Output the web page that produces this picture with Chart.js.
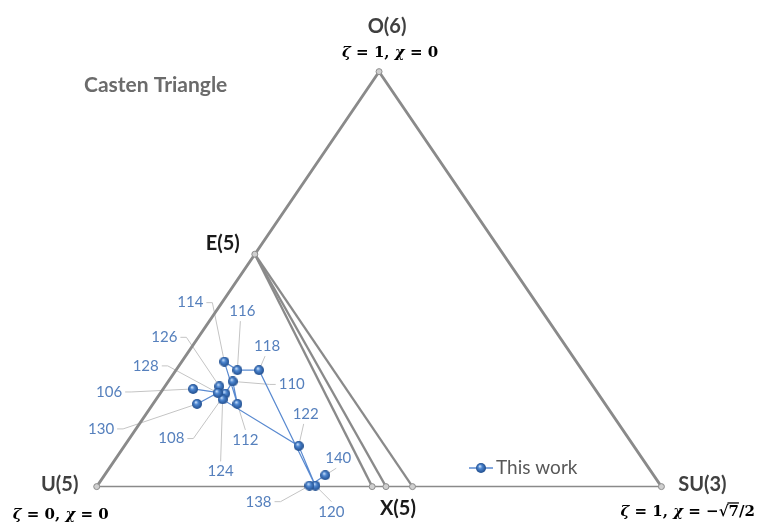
<!DOCTYPE html>
<html lang="en">
<head>
<meta charset="UTF-8">
<title>Casten Triangle</title>
<script src="https://cdn.jsdelivr.net/npm/chart.js"></script>
<style>
  html, body { margin: 0; padding: 0; background: #fff; }
  #wrap { width: 765px; height: 527px; position: relative; }
</style>
</head>
<body>
<div id="wrap"><canvas id="casten"></canvas></div>
<script>
// triangle frame: U(5) = (0,0), SU(3) = (1,0), O(6) = (0.5, 0.866)
const vertexNames = ['U(5)', 'O(6)', 'SU(3)'];
const vertexX = [0, 0.5, 1];
const vertexY = [0, 0.866, 0];

// E(5) on the U(5)-O(6) leg, and the feet of the lines drawn from it
const e5X = 0.28, e5Y = 0.485;
const footX = [0.4878, 0.5122, 0.5592];

// this work, by mass number
const massNumbers = [106, 108, 110, 112, 114, 116, 118, 120, 122, 124, 126, 128, 130, 138, 140];
const pointX = [0.1707, 0.2277, 0.2409, 0.2491, 0.2260, 0.2491, 0.2875, 0.3873, 0.3577, 0.2230, 0.2172, 0.2143, 0.1777, 0.3768, 0.4047];
const pointY = [0.2038, 0.1942, 0.2195, 0.1726, 0.2608, 0.2431, 0.2431, 0.0020, 0.0850, 0.1820, 0.2093, 0.1956, 0.1726, 0.0020, 0.0238];

// label placement (pixels from the point) and side of the label the leader leaves from
const labelOffset = [[-84, 3], [-54, 45], [59, 3], [8, 36], [-34, -59], [5, -59], [8, -24], [16, 26],
                     [7, -32], [-2, 72], [-55, -49], [-72, -27], [-96, 25], [-51, 16], [13, -17]];
const leaderSide = ['r', 'r', 'l', 't', 'r', 'b', 'b', 't', 'b', 't', 'r', 'r', 'r', 'r', 'b'];

const BLUE = '#5a8ad0';
const LABEL_BLUE = '#5680bd';
const GREY = '#8a8a8a';

function makeSphere(d) {
    const c = document.createElement('canvas');
    c.width = d; c.height = d;
    const g = c.getContext('2d');
    const grd = g.createRadialGradient(d * 0.38, d * 0.32, d * 0.04, d / 2, d / 2, d / 2);
    grd.addColorStop(0, '#c4dcf8');
    grd.addColorStop(0.35, '#4d86d0');
    grd.addColorStop(1, '#1f4c8c');
    g.fillStyle = grd;
    g.beginPath(); g.arc(d / 2, d / 2, d / 2, 0, Math.PI * 2); g.fill();
    return c;
}
const sphere = makeSphere(10);

// series with a gap where mass numbers 132-136 are missing
const seriesData = [];
massNumbers.forEach((a, i) => {
    if (i > 0 && a - massNumbers[i - 1] > 2) seriesData.push({ x: null, y: null });
    seriesData.push({ x: pointX[i], y: pointY[i] });
});

const U = { x: vertexX[0], y: vertexY[0] }, O = { x: vertexX[1], y: vertexY[1] }, SU = { x: vertexX[2], y: vertexY[2] };
const E = { x: e5X, y: e5Y };

const datasets = [
    { label: 'This work', data: seriesData, showLine: true, spanGaps: false, borderColor: BLUE, borderWidth: 1.2,
      pointStyle: sphere, pointRadius: 5, order: 0 },
    { data: [U, O, SU], showLine: true, borderColor: GREY, borderWidth: 2.8, pointRadius: 0, order: 3 },
    { data: [U, SU], showLine: true, borderColor: GREY, borderWidth: 1.5, pointRadius: 0, order: 3 }
];
footX.forEach(fx => {
    datasets.push({ data: [E, { x: fx, y: 0 }], showLine: true, borderColor: GREY, borderWidth: 2.3, pointRadius: 0, order: 3 });
});
datasets.push({ data: [U, O, SU, E].concat(footX.map(fx => ({ x: fx, y: 0 }))), showLine: false,
    pointRadius: 3, backgroundColor: '#cfcfcf', borderColor: '#8c8c8c', borderWidth: 1, order: 2 });

function drawMath(ctx, segs, x, y, size, align) {
    const fonts = { i: `italic bold ${size}px 'DejaVu Serif'`, n: `bold ${size}px 'DejaVu Serif'` };
    let total = 0;
    segs.forEach(s => { ctx.font = fonts[s[1] === 'i' ? 'i' : 'n']; total += ctx.measureText(s[0]).width; });
    let cx = align === 'left' ? x : x - total / 2;
    ctx.fillStyle = '#000';
    ctx.textAlign = 'left';
    ctx.textBaseline = 'middle';
    segs.forEach(s => {
        ctx.font = fonts[s[1] === 'i' ? 'i' : 'n'];
        const w = ctx.measureText(s[0]).width;
        ctx.fillText(s[0], cx, y);
        if (s[1] === 'o') {
            ctx.fillRect(cx - 1, y - size * 0.62, w + 1, 1.3);
        }
        cx += w;
    });
}

const decor = {
    id: 'decor',
    beforeDatasetsDraw(chart) {
        const { ctx, scales: { x, y } } = chart;
        ctx.save();
        ctx.font = "15px Lato";
        ctx.strokeStyle = '#c4c4c4';
        ctx.lineWidth = 1;
        massNumbers.forEach((a, i) => {
            const px = x.getPixelForValue(pointX[i]), py = y.getPixelForValue(pointY[i]);
            const cx = px + labelOffset[i][0], cy = py + labelOffset[i][1];
            const w = ctx.measureText(String(a)).width;
            ctx.beginPath();
            const side = leaderSide[i];
            if (side === 'r') { ctx.moveTo(cx + w / 2 + 3, cy); ctx.lineTo(cx + w / 2 + 9, cy); }
            else if (side === 'l') { ctx.moveTo(cx - w / 2 - 3, cy); ctx.lineTo(cx - w / 2 - 9, cy); }
            else if (side === 't') { ctx.moveTo(cx, cy - 10); }
            else { ctx.moveTo(cx - 2, cy + 10); }
            ctx.lineTo(px, py);
            ctx.stroke();
        });
        ctx.restore();
    },
    afterDatasetsDraw(chart) {
        const { ctx, scales: { x, y } } = chart;
        ctx.save();
        ctx.textAlign = 'center';
        ctx.textBaseline = 'middle';

        // mass number labels
        ctx.font = "15px Lato";
        ctx.fillStyle = LABEL_BLUE;
        massNumbers.forEach((a, i) => {
            const px = x.getPixelForValue(pointX[i]), py = y.getPixelForValue(pointY[i]);
            ctx.fillText(String(a), px + labelOffset[i][0], py + labelOffset[i][1]);
        });

        // vertex names
        const vx = vertexX.map(v => x.getPixelForValue(v));
        const vy = vertexY.map(v => y.getPixelForValue(v));
        ctx.font = "bold 20px Lato";
        ctx.fillStyle = '#404040';
        ctx.fillText(vertexNames[0], vx[0] - 37, vy[0] - 2);
        ctx.fillText(vertexNames[1], vx[1] + 8, vy[1] - 45);
        ctx.fillText(vertexNames[2], vx[2] + 41, vy[2] - 2);
        ctx.fillStyle = '#1a1a1a';
        ctx.fillText('E(5)', x.getPixelForValue(e5X) - 32, y.getPixelForValue(e5Y) - 11);
        ctx.fillText('X(5)', x.getPixelForValue(footX[1]) + 12, y.getPixelForValue(0) + 22);

        drawMath(ctx, [['ζ', 'i'], [' = ', 'n'], ['1', 'n'], [', ', 'n'], ['χ', 'i'], [' = ', 'n'], ['0', 'n']],
            vx[1] + 11, vy[1] - 19, 15, 'center');
        drawMath(ctx, [['ζ', 'i'], [' = ', 'n'], ['0', 'n'], [', ', 'n'], ['χ', 'i'], [' = ', 'n'], ['0', 'n']],
            vx[0] - 36, vy[0] + 28, 15, 'center');
        drawMath(ctx, [['ζ', 'i'], [' = ', 'n'], ['1', 'n'], [', ', 'n'], ['χ', 'i'], [' = ', 'n'], ['−', 'n'], ['√', 'n'], ['7', 'o'], ['/2', 'n']],
            vx[2] - 41, vy[2] + 25, 15, 'left');

        // title
        ctx.textAlign = 'left';
        ctx.font = "bold 21px Lato";
        ctx.fillStyle = '#6b6b6b';
        ctx.fillText('Casten Triangle', 84, 85);

        // legend
        ctx.strokeStyle = BLUE;
        ctx.lineWidth = 1.5;
        ctx.beginPath(); ctx.moveTo(469, 468); ctx.lineTo(493, 468); ctx.stroke();
        ctx.drawImage(sphere, 476, 463);
        ctx.font = "19px Lato";
        ctx.fillStyle = '#595959';
        ctx.fillText('This work', 496, 468);
        ctx.restore();
    }
};

new Chart(document.getElementById('casten'), {
    type: 'scatter',
    data: { datasets },
    options: {
        responsive: true,
        maintainAspectRatio: false,
        animation: false,
        layout: { padding: 0 },
        plugins: { legend: { display: false }, tooltip: { enabled: false } },
        scales: {
            x: { type: 'linear', display: false, min: -0.16028, max: 1.17247 },
            y: { type: 'linear', display: false, min: -0.07132, max: 1.00253 }
        }
    },
    plugins: [decor]
});
</script>
</body>
</html>
